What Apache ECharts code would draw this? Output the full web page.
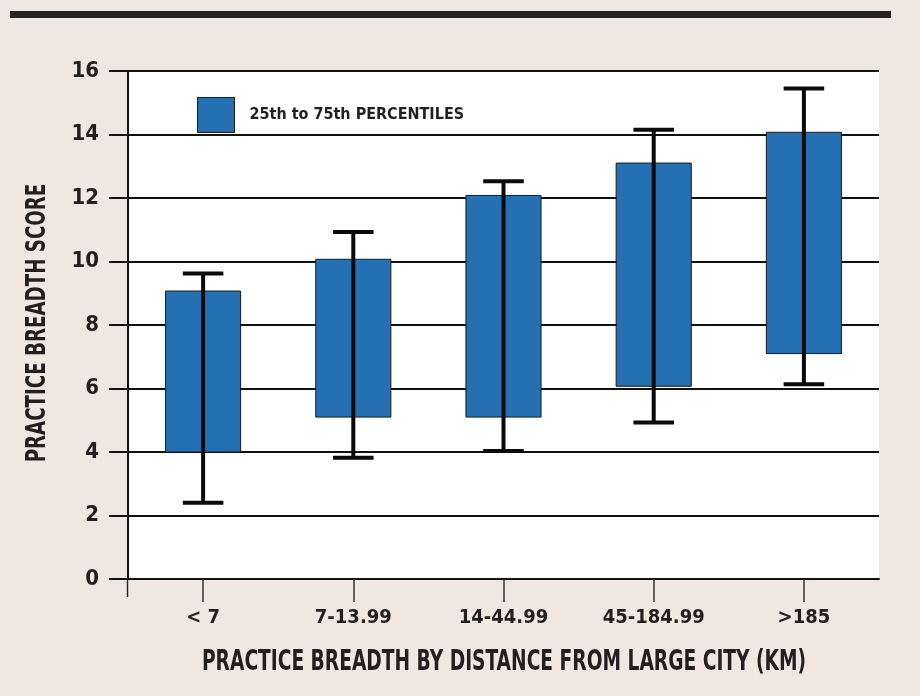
<!DOCTYPE html>
<html>
<head>
<meta charset="utf-8">
<script src="https://cdn.jsdelivr.net/npm/echarts@6/dist/echarts.min.js"></script>
<style>
html,body{margin:0;padding:0;background:#f1e7e1;}
#chart{width:920px;height:696px;}
</style>
</head>
<body>
<div id="chart"></div>
<script>
var categories = ['< 7', '7-13.99', '14-44.99', '45-184.99', '>185'];
var p25 = [4.0, 5.1, 5.1, 6.07, 7.1];
var p75 = [9.07, 10.07, 12.08, 13.1, 14.07];
var lowWhisker = [2.4, 3.82, 4.03, 4.93, 6.13];
var highWhisker = [9.62, 10.93, 12.53, 14.15, 15.45];
var yTicks = [0, 2, 4, 6, 8, 10, 12, 14, 16];
var legendLabel = '25th to 75th PERCENTILES';
var xTitle = 'PRACTICE BREADTH BY DISTANCE FROM LARGE CITY (KM)';
var yTitle = 'PRACTICE BREADTH SCORE';

var FONT = '"DejaVu Sans Condensed", "Liberation Sans Narrow", sans-serif';
var INK = '#231f20';
var BLUE = '#2470b3';

var boxData = categories.map(function (c, i) { return [i, p25[i], p75[i]]; });
var whiskerData = categories.map(function (c, i) { return [i, lowWhisker[i], highWhisker[i]]; });

var chart = echarts.init(document.getElementById('chart'), null, { renderer: 'canvas' });

var option = {
  backgroundColor: '#f1e7e1',
  animation: false,
  grid: { left: 128, right: 41, top: 71, height: 508, backgroundColor: '#ffffff', show: true, borderWidth: 0 },
  legend: {
    left: 192, top: 92,
    itemWidth: 37, itemHeight: 35,
    icon: 'rect',
    data: [{ name: legendLabel, itemStyle: { color: BLUE, borderColor: '#1a1a1a', borderWidth: 1 } }],
    textStyle: { fontFamily: FONT, fontWeight: 'bold', fontSize: 16, color: INK, padding: [0, 0, 0, 10] }
  },
  xAxis: {
    type: 'category',
    data: categories,
    axisLine: { show: true, lineStyle: { color: '#111', width: 2 } },
    axisTick: { show: true, alignWithLabel: true, interval: 0, length: 23, lineStyle: { color: '#333', width: 1.5 } },
    axisLabel: { show: true, interval: 0, fontFamily: FONT, fontWeight: 'bold', fontSize: 20, color: INK, margin: 29 }
  },
  yAxis: {
    type: 'value',
    min: yTicks[0], max: yTicks[yTicks.length - 1], interval: 2,
    axisLine: { show: true, lineStyle: { color: '#111', width: 2 } },
    axisTick: { show: true, length: 19, lineStyle: { color: '#111', width: 2 } },
    axisLabel: { show: true, fontFamily: FONT, fontWeight: 'bold', fontSize: 22, color: INK, margin: 29 },
    splitLine: { show: true, lineStyle: { color: '#111', width: 2 } }
  },
  series: [
    {
      type: 'custom',
      name: legendLabel,
      itemStyle: { color: BLUE, borderColor: '#1a1a1a', borderWidth: 1 },
      encode: { x: 0, y: [1, 2] },
      data: boxData,
      z: 2,
      renderItem: function (params, api) {
        var x = api.value(0);
        var lo = api.coord([x, api.value(1)]);
        var hi = api.coord([x, api.value(2)]);
        var w = api.size([1, 0])[0] * 0.5;
        return {
          type: 'rect',
          shape: { x: lo[0] - w / 2, y: hi[1], width: w, height: lo[1] - hi[1] },
          style: { fill: BLUE, stroke: '#1a1a1a', lineWidth: 1 }
        };
      }
    },
    {
      type: 'custom',
      name: 'range',
      encode: { x: 0, y: [1, 2] },
      data: whiskerData,
      z: 3,
      renderItem: function (params, api) {
        var x = api.value(0);
        var lo = api.coord([x, api.value(1)]);
        var hi = api.coord([x, api.value(2)]);
        var cap = api.size([1, 0])[0] * 0.27;
        var st = { stroke: '#0a0a0a', lineWidth: 4 };
        return {
          type: 'group',
          children: [
            { type: 'line', shape: { x1: lo[0], y1: lo[1], x2: hi[0], y2: hi[1] }, style: st },
            { type: 'line', shape: { x1: lo[0] - cap / 2, y1: lo[1], x2: lo[0] + cap / 2, y2: lo[1] }, style: st },
            { type: 'line', shape: { x1: hi[0] - cap / 2, y1: hi[1], x2: hi[0] + cap / 2, y2: hi[1] }, style: st }
          ]
        };
      }
    }
  ],
  graphic: [
    { type: 'rect', shape: { x: 10, y: 11, width: 881, height: 7 }, style: { fill: '#262324' } },
    { type: 'line', shape: { x1: 127.5, y1: 579, x2: 127.5, y2: 597 }, style: { stroke: '#222', lineWidth: 1.5 } },
    {
      type: 'text', x: 504, y: 663, scaleX: 0.74,
      style: { text: xTitle, fontFamily: FONT, fontWeight: 'bold', fontSize: 28, fill: INK, align: 'center', verticalAlign: 'middle' }
    },
    {
      type: 'text', x: 38, y: 323, rotation: Math.PI / 2, scaleX: 0.78,
      style: { text: yTitle, fontFamily: FONT, fontWeight: 'bold', fontSize: 26, fill: INK, align: 'center', verticalAlign: 'middle' }
    }
  ]
};
chart.setOption(option);
</script>
</body>
</html>
